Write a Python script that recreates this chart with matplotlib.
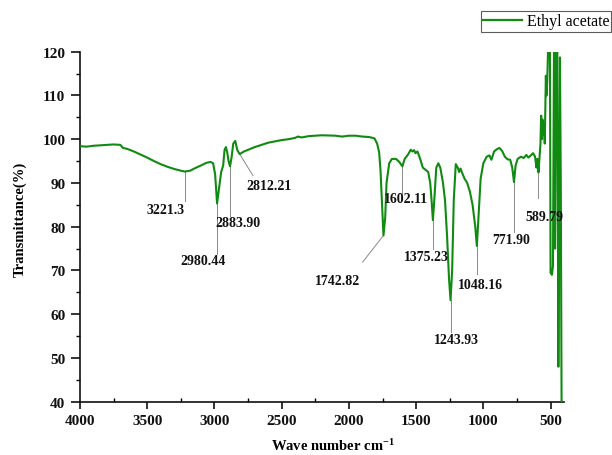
import matplotlib
matplotlib.use("Agg")
import matplotlib.pyplot as plt
from matplotlib.ticker import MultipleLocator

plt.rcParams['font.family'] = ['Liberation Serif', 'DejaVu Serif']
plt.rcParams['mathtext.fontset'] = 'custom'
plt.rcParams['mathtext.rm'] = 'Liberation Serif:bold'
plt.rcParams['mathtext.bf'] = 'Liberation Serif:bold'
plt.rcParams['mathtext.it'] = 'Liberation Serif:bold'

# FTIR spectrum of ethyl acetate (wavenumber in cm-1, transmittance in %)
wavenumber = [
    4000, 3950, 3900, 3850, 3800, 3750, 3700, 3680, 3650, 3600, 3550, 3500,
    3450, 3400, 3350, 3300, 3250, 3221.3, 3180, 3150, 3100, 3060, 3030, 3010,
    2995, 2980.44, 2965, 2950, 2935, 2925, 2915, 2905, 2895, 2883.90, 2872,
    2860, 2845, 2830, 2812.21, 2780, 2700, 2600, 2500, 2450, 2400, 2380, 2350,
    2300, 2200, 2100, 2050, 2000, 1950, 1900, 1850, 1810, 1790, 1775, 1765,
    1755, 1742.82, 1730, 1720, 1700, 1680, 1650, 1625, 1602.11, 1585, 1560,
    1540, 1528, 1515, 1505, 1490, 1470, 1450, 1430, 1410, 1395, 1385, 1375.23,
    1365, 1350, 1335, 1320, 1300, 1285, 1270, 1255, 1243.93, 1232, 1220, 1205,
    1190, 1180, 1170, 1160, 1140, 1120, 1100, 1080, 1060, 1048.16, 1035, 1020,
    1000, 975, 955, 940, 920, 900, 880, 860, 840, 820, 800, 785, 771.90, 760,
    745, 720, 700, 680, 665, 650, 630, 615, 605, 598, 589.79, 582, 575, 570,
    565, 560, 555, 550, 543, 535, 530, 525, 518, 510, 505, 500, 490, 482, 474,
    466, 458, 450, 442, 436, 430, 424, 418, 400,
]
transmittance = [
    98.4, 98.3, 98.5, 98.6, 98.7, 98.8, 98.7, 98.0, 97.8, 97.2, 96.5, 95.8,
    95.0, 94.3, 93.7, 93.2, 92.8, 92.6, 92.8, 93.3, 94.0, 94.6, 94.8, 94.5,
    92.0, 85.3, 89.0, 92.5, 94.0, 97.5, 98.2, 97.0, 95.0, 93.8, 96.0,
    99.0, 99.6, 97.5, 96.6, 97.2, 98.2, 99.2, 99.8, 100.0, 100.3, 100.6, 100.4,
    100.7, 100.9, 100.8, 100.6, 100.8, 100.8, 100.6, 100.5, 100.2, 99.0, 97.0, 93.0,
    86.0, 78.0, 82.0, 90.0, 94.5, 95.5, 95.5, 94.8, 93.8, 95.5, 96.5,
    97.6, 97.2, 97.5, 96.8, 97.2, 95.5, 93.5, 93.0, 92.5, 90.0, 86.0, 81.5,
    86.0, 93.5, 94.5, 93.5, 90.0, 86.0, 78.0, 68.0, 63.2, 70.0, 86.0, 94.3,
    93.5, 92.5, 93.3, 92.5, 91.0, 90.0, 88.0, 85.0, 80.0, 75.6, 83.0, 91.0,
    94.5, 96.0, 96.3, 95.3, 97.2, 97.7, 98.0, 97.3, 96.0, 95.4, 95.3, 93.5, 90.2, 94.0,
    95.5, 96.0, 95.7, 96.4, 95.8, 96.2, 96.8, 96.0, 93.5, 95.5, 92.4, 96.0, 99.0, 105.4,
    100.0, 104.5, 101.0, 103.5, 99.0, 114.5, 110.0, 113.0, 121.0, 125.0, 125.0, 69.5, 69.0, 71.0, 125.0,
    75.0, 125.0, 125.0, 48.0, 80.0, 118.7, 90.0, 40.0, 30.0,
]

# Peak annotations: label, peak position, line end and text centre
peak_labels = ["3221.3", "2980.44", "2883.90", "2812.21", "1742.82", "1602.11",
               "1375.23", "1243.93", "1048.16", "771.90", "589.79"]
peak_x = [3221.3, 2980.44, 2883.90, 2812.21, 1742.82, 1602.11,
          1375.23, 1243.93, 1048.16, 771.90, 589.79]
peak_y = [92.6, 85.3, 93.8, 96.6, 78.0, 93.8, 81.5, 63.2, 75.6, 90.2, 92.4]
line_end_x = [3221.3, 2980.44, 2883.90, 2714, 1898, 1602.11,
              1375.23, 1243.93, 1048.16, 771.90, 589.79]
line_end_y = [85.9, 73.8, 82.5, 91.7, 71.9, 87.4, 74.9, 55.9, 69.2, 78.7, 86.5]
text_x = [3361, 3088, 2828, 2595, 2082, 1575, 1422, 1197, 1021, 790, 543]
text_y = [83.9, 72.2, 81.0, 89.4, 67.7, 86.4, 73.2, 54.2, 66.9, 77.0, 82.4]

W, H = 612, 456
fig = plt.figure(figsize=(W / 100, H / 100), dpi=100)
ax = fig.add_axes([80 / W, 1 - 402.7 / H, (564 - 80) / W, (402.7 - 52.7) / H])

green = '#108a10'
line, = ax.plot(wavenumber, transmittance, color=green, lw=1.5,
                label='Ethyl acetate', zorder=3)

for lab, px, py, lx, ly, tx, ty in zip(peak_labels, peak_x, peak_y,
                                       line_end_x, line_end_y, text_x, text_y):
    ax.plot([px, lx], [py, ly], color='#8a8a8a', lw=0.7, zorder=2)
    ax.text(tx, ty, lab, ha='center', va='center', fontsize=10,
            fontweight='bold', color='#111111', zorder=4)

ax.set_xlim(4000, 400)
ax.set_ylim(40, 120)
ax.xaxis.set_major_locator(MultipleLocator(500))
ax.xaxis.set_minor_locator(MultipleLocator(250))
ax.yaxis.set_major_locator(MultipleLocator(10))
ax.yaxis.set_minor_locator(MultipleLocator(5))

for s in ('top', 'right'):
    ax.spines[s].set_visible(False)
for s in ('left', 'bottom'):
    ax.spines[s].set_linewidth(1.2)
    ax.spines[s].set_color('#111111')

ax.tick_params(axis='both', which='major', direction='out', width=1.2,
               colors='#111111', labelsize=11)
ax.tick_params(axis='y', which='major', length=6.5, pad=4)
ax.tick_params(axis='x', which='major', length=5, pad=3.5)
ax.tick_params(axis='y', which='minor', direction='out', length=3, width=1.0)
ax.tick_params(axis='x', which='minor', direction='in', length=3, width=1.0)
for lbl in ax.get_xticklabels() + ax.get_yticklabels():
    lbl.set_fontweight('bold')

fig.text(333 / W, 1 - 446 / H, r'Wave number cm$^{-1}$', ha='center',
         va='center', fontsize=10.5, fontweight='bold')
fig.text(19.6 / W, 1 - 219 / H, 'Transmittance(%)', ha='center', va='center',
         rotation=90, fontsize=10.5, fontweight='bold')

leg = fig.legend(handles=[line], loc='upper left',
                 bbox_to_anchor=(481 / W, 1 - 12 / H), fontsize=11.5,
                 frameon=True, fancybox=False, borderpad=0.15,
                 handlelength=2.4, handletextpad=0.3, borderaxespad=0)
leg.get_frame().set_edgecolor('#333333')
leg.get_frame().set_linewidth(0.8)
leg.get_lines()[0].set_linewidth(1.6)

fig.savefig('out.png', dpi=100)
